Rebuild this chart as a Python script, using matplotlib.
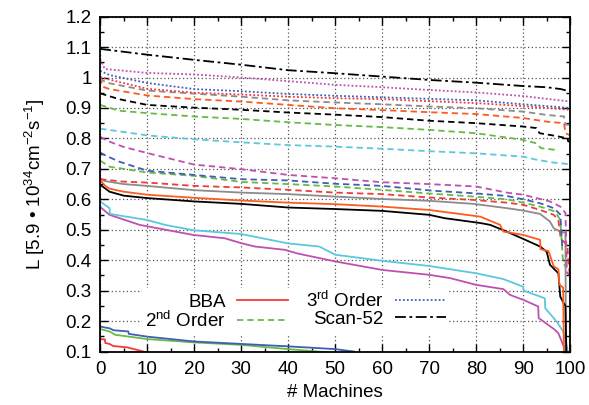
import matplotlib
matplotlib.use("Agg")
import matplotlib.pyplot as plt
from matplotlib.lines import Line2D
from matplotlib.ticker import MultipleLocator

plt.rcParams['font.family'] = ['Liberation Sans', 'DejaVu Sans']
plt.rcParams['mathtext.fontset'] = 'custom'
plt.rcParams['mathtext.rm'] = 'Liberation Sans'
plt.rcParams['mathtext.it'] = 'Liberation Sans:italic'

# ---- data ----
# Scan-52 style (dash-dot)
x_scan_k = [0, 10, 20, 30, 40, 50, 60, 70, 80, 90, 95, 98, 100]
y_scan_k = [1.094, 1.075, 1.058, 1.042, 1.024, 1.014, 1.003, 0.992, 0.983, 0.972, 0.968, 0.962, 0.954]

# 3rd order style (dotted)
x_dot_m = [0, 0.5, 1, 10, 20, 30, 40, 50, 60, 70, 80, 90, 100]
y_dot_m = [1.06, 1.045, 1.028, 1.015, 1.010, 1.0, 0.988, 0.976, 0.968, 0.959, 0.951, 0.939, 0.921]
x_dot_b = [0, 2, 10, 20, 30, 40, 50, 60, 70, 80, 90, 100]
y_dot_b = [1.022, 1.008, 0.982, 0.962, 0.955, 0.946, 0.940, 0.935, 0.930, 0.925, 0.912, 0.900]
x_dot_r = [0, 2, 10, 20, 30, 40, 50, 60, 70, 80, 90, 100]
y_dot_r = [1.002, 0.993, 0.963, 0.950, 0.944, 0.937, 0.932, 0.929, 0.922, 0.916, 0.906, 0.894]

# 2nd order style (dashed)
x_dash_gray = [0, 0.5, 2, 10, 20, 30, 40, 50, 60, 70, 80, 90, 95, 98.7, 99, 100]
y_dash_gray = [1.0, 0.99, 0.981, 0.957, 0.947, 0.937, 0.925, 0.918, 0.912, 0.905, 0.899, 0.888, 0.877, 0.872, 0.845, 0.845]
x_dash_o = [0, 0.5, 2, 10, 20, 30, 40, 50, 60, 70, 80, 90, 95, 98.7, 99, 100]
y_dash_o = [1.0, 0.97, 0.962, 0.941, 0.929, 0.921, 0.910, 0.899, 0.893, 0.886, 0.880, 0.867, 0.855, 0.85, 0.817, 0.81]
x_dash_k = [0, 4, 10, 20, 30, 40, 50, 60, 70, 80, 90, 92.8, 93.5, 97, 99.4, 99.6, 100]
y_dash_k = [0.948, 0.929, 0.910, 0.901, 0.894, 0.885, 0.878, 0.870, 0.858, 0.850, 0.839, 0.834, 0.817, 0.808, 0.80, 0.79, 0.79]
x_dash_g1 = [0, 4, 10, 20, 30, 40, 50, 60, 70, 80, 90, 92.8, 93.8, 97]
y_dash_g1 = [0.910, 0.891, 0.883, 0.872, 0.864, 0.853, 0.844, 0.837, 0.828, 0.817, 0.795, 0.784, 0.768, 0.762]
x_dash_c = [0, 10, 20, 30, 40, 50, 60, 70, 80, 90, 92.8, 96.3, 100]
y_dash_c = [0.832, 0.810, 0.797, 0.787, 0.778, 0.773, 0.766, 0.758, 0.751, 0.740, 0.730, 0.721, 0.715]
x_dash_m = [0, 1.5, 5, 10, 20, 30, 40, 50, 60, 70, 80, 86.5, 90, 95.7, 97.9, 99, 99.3, 100]
y_dash_m = [0.806, 0.792, 0.772, 0.752, 0.714, 0.699, 0.680, 0.669, 0.656, 0.650, 0.642, 0.622, 0.615, 0.593, 0.576, 0.555, 0.36, 0.35]
x_dash_b = [0, 1, 4, 10, 20, 30, 40, 50, 60, 71, 79.4, 86.5, 90, 93.6, 96.5, 97.9, 98.3, 99]
y_dash_b = [0.754, 0.745, 0.724, 0.694, 0.680, 0.666, 0.662, 0.651, 0.644, 0.628, 0.620, 0.611, 0.600, 0.587, 0.571, 0.55, 0.45, 0.45]
x_dash_g2 = [0, 2, 5, 10, 20, 30, 40, 50, 60, 70, 79.4, 86.5, 90, 93.6, 96.8, 97.9, 98.5, 99]
y_dash_g2 = [0.727, 0.707, 0.700, 0.688, 0.677, 0.657, 0.650, 0.642, 0.631, 0.619, 0.609, 0.600, 0.589, 0.576, 0.560, 0.532, 0.39, 0.38]
x_dash_r = [0, 5, 10, 20, 30, 40, 50, 60, 70, 79.4, 86.5, 90, 93.6, 96.5, 97.5, 98, 99.4, 99.6, 100]
y_dash_r = [0.666, 0.658, 0.655, 0.644, 0.639, 0.631, 0.622, 0.617, 0.606, 0.598, 0.589, 0.582, 0.565, 0.549, 0.532, 0.47, 0.45, 0.40, 0.34]

# BBA style (solid)
x_sol_gray = [0, 1, 5, 10, 20, 30, 40, 50, 60, 70, 79.4, 86.5, 90, 93.6, 95.7, 96.5, 97.9, 99, 99.1]
y_sol_gray = [0.669, 0.66, 0.650, 0.644, 0.630, 0.622, 0.617, 0.609, 0.601, 0.595, 0.585, 0.571, 0.563, 0.552, 0.527, 0.505, 0.494, 0.49, 0.09]
x_sol_o = [0, 1, 2, 5, 10, 20, 30, 40, 50, 60, 70, 80.9, 85.1, 85.8, 90, 93.6, 93.7, 95.4, 96.5, 97.5, 97.7, 98.5, 98.7]
y_sol_o = [0.664, 0.645, 0.635, 0.625, 0.615, 0.605, 0.596, 0.589, 0.584, 0.576, 0.565, 0.543, 0.516, 0.494, 0.483, 0.467, 0.436, 0.43, 0.38, 0.37, 0.32, 0.31, 0.09]
x_sol_k = [0, 2, 5, 10, 20, 30, 40, 50, 60, 70, 73.3, 80.9, 83, 86.5, 90, 93.6, 95, 95.7, 97.5, 97.9, 98.6, 99, 99.2]
y_sol_k = [0.648, 0.625, 0.612, 0.604, 0.593, 0.585, 0.573, 0.568, 0.562, 0.549, 0.538, 0.522, 0.516, 0.494, 0.470, 0.445, 0.428, 0.385, 0.357, 0.28, 0.26, 0.25, 0.09]
x_sol_c = [0, 2, 2.1, 10, 13.8, 20, 30, 40, 46.6, 50, 60, 70, 80, 85.8, 90, 90.1, 94.6, 94.7, 97.1, 98.5, 99, 99.6]
y_sol_c = [0.593, 0.571, 0.552, 0.532, 0.516, 0.498, 0.486, 0.455, 0.445, 0.418, 0.398, 0.381, 0.357, 0.338, 0.313, 0.30, 0.275, 0.242, 0.199, 0.166, 0.14, 0.09]
x_sol_m = [0, 2, 8.4, 19.8, 26.5, 30, 32.9, 39.3, 42, 50, 60, 70, 74.5, 80, 85.8, 87.2, 90, 93.2, 93.3, 96.8, 97.5, 98.5, 99.2]
y_sol_m = [0.575, 0.549, 0.516, 0.483, 0.472, 0.456, 0.445, 0.434, 0.422, 0.396, 0.368, 0.352, 0.341, 0.319, 0.305, 0.286, 0.27, 0.248, 0.21, 0.171, 0.16, 0.122, 0.09]
x_sol_b = [0, 2.1, 2.8, 6, 6.1, 10, 20, 30, 40, 50, 54]
y_sol_b = [0.182, 0.176, 0.17, 0.166, 0.158, 0.149, 0.133, 0.125, 0.117, 0.108, 0.1]
x_sol_g = [0, 2, 3.2, 10, 20, 30, 40, 48]
y_sol_g = [0.174, 0.166, 0.155, 0.141, 0.130, 0.122, 0.108, 0.098]
x_sol_r = [0, 1, 1.1, 2, 2.8, 5.7, 9.5]
y_sol_r = [0.141, 0.14, 0.128, 0.125, 0.118, 0.114, 0.099]

RED = '#f23a3a'
ORANGE = '#ff5a1f'
GREEN = '#66bb44'
BLUE = '#3f5fb5'
CYAN = '#5cc8dc'
MAGENTA = '#c050b0'
GRAY = '#8c8c8c'
BLACK = '#000000'

DASH = (0, (3.5, 2.2))
DOT = (0, (1, 1.2))
DASHDOT = (0, (6, 2, 1.5, 2))

FS = 13.5

fig = plt.figure(figsize=(5.89, 4.05), dpi=100)
ax = fig.add_axes([0.170, 0.132, 0.798, 0.827])

lw = 1.3
ax.plot(x_sol_r, y_sol_r, color=RED, lw=lw)
ax.plot(x_sol_g, y_sol_g, color=GREEN, lw=lw)
ax.plot(x_sol_b, y_sol_b, color=BLUE, lw=lw)
ax.plot(x_sol_m, y_sol_m, color=MAGENTA, lw=lw)
ax.plot(x_sol_c, y_sol_c, color=CYAN, lw=lw)
ax.plot(x_sol_gray, y_sol_gray, color=GRAY, lw=lw)
ax.plot(x_sol_k, y_sol_k, color=BLACK, lw=lw)
ax.plot(x_sol_o, y_sol_o, color=ORANGE, lw=lw)

ax.plot(x_dash_r, y_dash_r, color=RED, lw=lw, ls=DASH)
ax.plot(x_dash_g2, y_dash_g2, color=GREEN, lw=lw, ls=DASH)
ax.plot(x_dash_b, y_dash_b, color=BLUE, lw=lw, ls=DASH)
ax.plot(x_dash_m, y_dash_m, color=MAGENTA, lw=lw, ls=DASH)
ax.plot(x_dash_c, y_dash_c, color=CYAN, lw=lw, ls=DASH)
ax.plot(x_dash_g1, y_dash_g1, color=GREEN, lw=lw, ls=DASH)
ax.plot(x_dash_k, y_dash_k, color=BLACK, lw=lw, ls=DASH)
ax.plot(x_dash_o, y_dash_o, color=ORANGE, lw=lw, ls=DASH)
ax.plot(x_dash_gray, y_dash_gray, color=GRAY, lw=lw, ls=DASH)

ax.plot(x_dot_r, y_dot_r, color=RED, lw=lw, ls=DOT)
ax.plot(x_dot_b, y_dot_b, color=BLUE, lw=lw, ls=DOT)
ax.plot(x_dot_m, y_dot_m, color=MAGENTA, lw=lw, ls=DOT)
ax.plot(x_scan_k, y_scan_k, color=BLACK, lw=lw, ls=DASHDOT)

ax.set_xlim(0, 100)
ax.set_ylim(0.1, 1.2)
ax.xaxis.set_major_locator(MultipleLocator(10))
ax.xaxis.set_minor_locator(MultipleLocator(5))
ax.yaxis.set_major_locator(MultipleLocator(0.1))
ax.yaxis.set_minor_locator(MultipleLocator(0.05))
ax.yaxis.set_major_formatter(plt.FuncFormatter(lambda v, p: "1" if abs(v - 1) < 1e-9 else f"{v:.1f}"))
ax.tick_params(which='both', direction='in', top=True, right=True, labelsize=FS)
ax.tick_params(which='major', length=6, width=1)
ax.tick_params(which='minor', length=3, width=1)
ax.tick_params(axis='x', pad=7)
ax.tick_params(axis='y', pad=6)
ax.grid(True, which='major', color='#555555', ls=(0, (1, 2)), lw=0.9)
for s in ax.spines.values():
    s.set_linewidth(1.3)

ax.set_xlabel("# Machines", fontsize=FS, labelpad=4)
ax.set_ylabel("L [5.9 \u2022 10$^{\\mathregular{34}}$cm$^{\\mathregular{-2}}$s$^{\\mathregular{-1}}$]", fontsize=FS, labelpad=13)

handles = [
    Line2D([], [], color=RED, lw=lw),
    Line2D([], [], color=GREEN, lw=lw, ls=DASH),
    Line2D([], [], color=BLUE, lw=lw, ls=DOT),
    Line2D([], [], color=BLACK, lw=lw, ls=DASHDOT),
]
labels = ["BBA", "2$^{\\mathregular{nd}}$ Order", "3$^{\\mathregular{rd}}$ Order", "Scan-52"]
leg = ax.legend(handles, labels, ncol=2, loc='lower left', bbox_to_anchor=(0.07, 0.025),
                markerfirst=False, fontsize=FS, handlelength=2.7, handletextpad=0.6,
                columnspacing=1.0, labelspacing=0.0, borderpad=0.15,
                frameon=True, facecolor='white', edgecolor='none', framealpha=1, fancybox=False)

fig.savefig("out.png", dpi=100)
